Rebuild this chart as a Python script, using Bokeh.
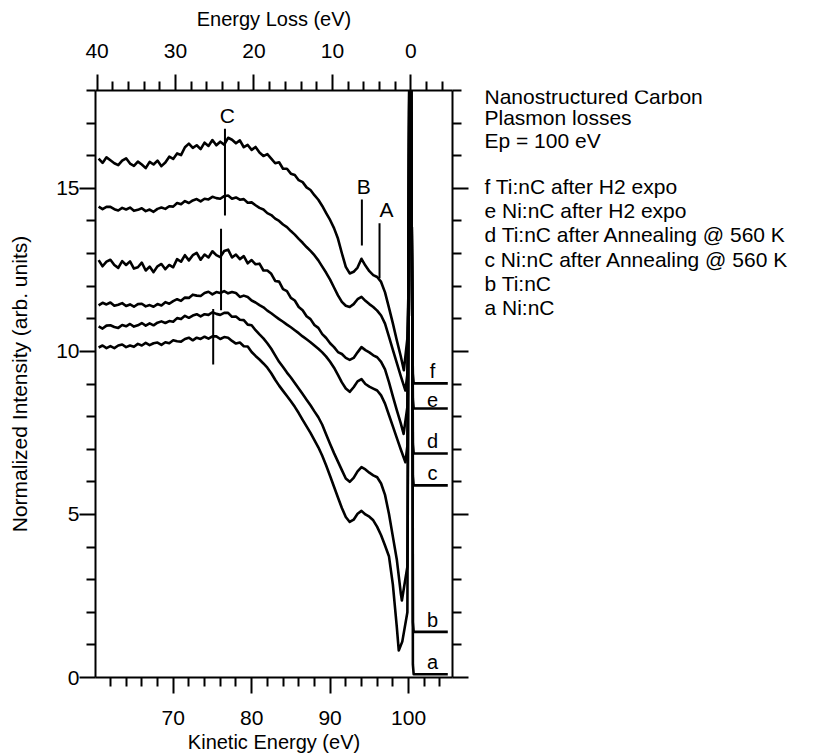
from bokeh.plotting import figure
from bokeh.layouts import row
from bokeh.models import Range1d, LinearAxis, FixedTicker, Label
from bokeh.core.properties import value
from bokeh.embed import file_html
from bokeh.resources import INLINE

FONT = "Liberation Sans"

# ---------------- data ----------------
KE = [60.5, 61.0, 61.5, 62.0, 62.5, 63.0, 63.5, 64.0, 64.5, 65.0,
      65.5, 66.0, 66.5, 67.0, 67.5, 68.0, 68.5, 69.0, 69.5, 70.0,
      70.5, 71.0, 71.5, 72.0, 72.5, 73.0, 73.5, 74.0, 74.5, 75.0,
      75.5, 76.0, 76.5, 77.0, 77.5, 78.0, 78.5, 79.0, 79.5, 80.0,
      80.5, 81.0, 81.5, 82.0, 82.5, 83.0, 83.5, 84.0, 84.5, 85.0,
      85.5, 86.0, 86.5, 87.0, 87.5, 88.0, 88.5, 89.0, 89.5, 90.0,
      90.5, 91.0, 91.5, 92.0, 92.5, 93.0, 93.5, 94.0, 94.5, 95.0,
      95.5, 96.0, 96.5, 97.0, 97.5, 98.0, 98.5]

f_I = [15.91, 15.78, 15.95, 15.86, 15.77, 15.71, 15.85, 15.92, 15.76, 15.69,
       15.82, 15.73, 15.62, 15.81, 15.73, 15.85, 15.68, 15.79, 15.97, 15.90,
       16.07, 16.02, 16.26, 16.37, 16.24, 16.32, 16.20, 16.40, 16.30, 16.48,
       16.32, 16.43, 16.34, 16.55, 16.49, 16.38, 16.47, 16.26, 16.33, 16.18,
       16.27, 16.10, 15.99, 16.05, 15.91, 15.77, 15.80, 15.60, 15.60, 15.45,
       15.41, 15.25, 15.19, 15.03, 14.95, 14.79, 14.65, 14.46, 14.24, 14.03,
       13.78, 13.46, 13.01, 12.59, 12.39, 12.44, 12.57, 12.84, 12.63, 12.46,
       12.34, 12.28, 12.13, 11.81, 11.34, 10.86, 10.34]
e_I = [14.44, 14.36, 14.43, 14.43, 14.36, 14.32, 14.40, 14.35, 14.41, 14.31,
       14.34, 14.39, 14.30, 14.35, 14.28, 14.37, 14.41, 14.37, 14.45, 14.44,
       14.55, 14.51, 14.61, 14.55, 14.63, 14.67, 14.60, 14.68, 14.66, 14.74,
       14.70, 14.68, 14.76, 14.78, 14.68, 14.72, 14.65, 14.67, 14.56, 14.57,
       14.48, 14.40, 14.35, 14.24, 14.18, 14.07, 14.00, 13.89, 13.81, 13.69,
       13.58, 13.45, 13.33, 13.20, 13.08, 12.95, 12.79, 12.60, 12.41, 12.20,
       11.96, 11.72, 11.52, 11.40, 11.36, 11.45, 11.60, 11.67, 11.55, 11.45,
       11.36, 11.25, 11.10, 10.85, 10.45, 10.05, 9.65]
d_I = [12.80, 12.61, 12.75, 12.81, 12.65, 12.56, 12.77, 12.65, 12.76, 12.54,
       12.58, 12.72, 12.48, 12.60, 12.43, 12.61, 12.68, 12.52, 12.65, 12.58,
       12.83, 12.75, 12.95, 12.79, 12.95, 13.02, 12.81, 12.97, 12.88, 13.07,
       12.95, 12.89, 13.08, 13.12, 12.88, 12.97, 12.83, 12.92, 12.70, 12.80,
       12.67, 12.69, 12.48, 12.48, 12.38, 12.16, 12.14, 11.91, 11.85, 11.64,
       11.56, 11.36, 11.26, 11.08, 10.99, 10.81, 10.72, 10.53, 10.41, 10.25,
       10.13, 9.98, 9.92, 9.80, 9.74, 9.80, 9.97, 10.13, 10.04, 9.97,
       9.88, 9.82, 9.68, 9.45, 9.06, 8.62, 8.20]
c_I = [11.41, 11.49, 11.44, 11.50, 11.40, 11.43, 11.48, 11.39, 11.44, 11.37,
       11.45, 11.46, 11.38, 11.42, 11.37, 11.45, 11.41, 11.51, 11.46, 11.54,
       11.60, 11.55, 11.65, 11.64, 11.74, 11.71, 11.70, 11.79, 11.83, 11.75,
       11.82, 11.79, 11.85, 11.78, 11.82, 11.79, 11.67, 11.71, 11.67, 11.56,
       11.50, 11.42, 11.35, 11.25, 11.17, 11.08, 10.99, 10.91, 10.82, 10.74,
       10.65, 10.56, 10.46, 10.37, 10.28, 10.18, 10.08, 9.97, 9.84, 9.68,
       9.50, 9.28, 9.05, 8.86, 8.76, 8.90, 9.08, 9.15, 9.00, 8.92,
       8.86, 8.80, 8.65, 8.40, 8.05, 7.70, 7.35]
b_I = [10.77, 10.70, 10.79, 10.80, 10.75, 10.72, 10.81, 10.77, 10.84, 10.76,
       10.80, 10.87, 10.79, 10.86, 10.80, 10.88, 10.92, 10.87, 10.93, 10.91,
       11.02, 10.99, 11.09, 11.03, 11.10, 11.14, 11.07, 11.14, 11.12, 11.20,
       11.15, 11.12, 11.18, 11.18, 11.06, 11.07, 10.97, 10.96, 10.82, 10.80,
       10.65, 10.52, 10.40, 10.25, 10.08, 9.88, 9.68, 9.52, 9.35, 9.20,
       9.03, 8.86, 8.69, 8.52, 8.35, 8.16, 7.98, 7.75, 7.45, 7.16,
       6.88, 6.62, 6.36, 6.10, 6.00, 6.12, 6.32, 6.45, 6.38, 6.28,
       6.20, 6.14, 5.95, 5.60, 5.02, 4.32, 3.62]
a_I = [10.12, 10.18, 10.10, 10.16, 10.10, 10.18, 10.21, 10.13, 10.18, 10.14,
       10.23, 10.18, 10.26, 10.19, 10.25, 10.27, 10.20, 10.28, 10.25, 10.34,
       10.31, 10.30, 10.38, 10.42, 10.34, 10.42, 10.38, 10.45, 10.39, 10.46,
       10.46, 10.38, 10.44, 10.42, 10.32, 10.24, 10.27, 10.16, 10.15, 9.98,
       9.86, 9.75, 9.63, 9.50, 9.33, 9.13, 8.95, 8.79, 8.63, 8.47,
       8.30, 8.11, 7.90, 7.70, 7.50, 7.28, 7.06, 6.80, 6.50, 6.18,
       5.85, 5.52, 5.20, 4.92, 4.77, 4.84, 5.02, 5.11, 5.00, 4.93,
       4.82, 4.62, 4.36, 4.05, 3.72, 2.85, 1.55]

# end of each spectrum before the elastic peak (minimum region)
END_KE = {"f": [99.0, 99.4, 99.85], "e": [99.0, 99.6, 99.85], "d": [99.0, 99.37, 99.85],
          "c": [99.0, 99.6, 99.85], "b": [99.0, 99.15, 99.85], "a": [98.75, 99.2, 99.85]}
END_I = {"f": [9.86, 9.42, 10.4], "e": [9.25, 8.80, 9.3], "d": [7.80, 7.47, 8.3],
         "c": [7.00, 6.60, 7.1], "b": [2.60, 2.36, 3.4], "a": [0.83, 1.1, 2.0]}

# elastic peak (goes off scale)
PEAK_KE = [100.0, 100.15, 100.25, 100.4, 100.5]
PEAK_I = [12.0, 22.0, 22.0, 14.0, 10.0]

# flat level after the elastic peak
TAIL_KE = [100.55, 100.65, 105.0]
TAIL_I = {"f": 9.02, "e": 8.25, "d": 6.87, "c": 5.89, "b": 1.40, "a": 0.10}

SERIES = {"f": f_I, "e": e_I, "d": d_I, "c": c_I, "b": b_I, "a": a_I}
LETTERS = ["f", "e", "d", "c", "b", "a"]

# feature marker lines
MARK_X = [76.6, 76.1, 75.1, 94.05, 96.3]
MARK_Y0 = [16.83, 13.76, 11.30, 14.66, 13.93]
MARK_Y1 = [14.17, 11.26, 9.60, 13.25, 12.24]
MARK_TEXT = ["C", "B", "A"]
MARK_TEXT_X = [76.9, 94.3, 97.2]
MARK_TEXT_Y = [17.24, 15.06, 14.34]

X_TICKS = [70, 80, 90, 100]
X_MINOR = [62, 64, 66, 68, 72, 74, 76, 78, 82, 84, 86, 88, 92, 94, 96, 98, 102, 104]
LOSS_TICKS = [40, 30, 20, 10, 0]
LOSS_MINOR = [38, 36, 34, 32, 28, 26, 24, 22, 18, 16, 14, 12, 8, 6, 4, 2, -2, -4]
Y_TICKS = [0, 5, 10, 15]
Y_MINOR = [1, 2, 3, 4, 6, 7, 8, 9, 11, 12, 13, 14, 16, 17, 18]
E0 = 100.3  # kinetic energy of zero loss

TEXT_LINES = ["Nanostructured Carbon", "Plasmon losses", "Ep = 100 eV",
              "f Ti:nC after H2 expo", "e Ni:nC after H2 expo",
              "d Ti:nC after Annealing @ 560 K", "c Ni:nC after Annealing @ 560 K",
              "b Ti:nC", "a Ni:nC"]
TEXT_BASE = [96, 117, 140, 186, 210, 234, 258.5, 282.5, 306.5]

# ---------------- main figure ----------------
W_MAIN = 475
FR_TOP, FR_BOT = 90, 677
X0, X1 = 60.1, 105.6
p = figure(width=W_MAIN, height=756, output_backend="svg", toolbar_location=None,
           x_range=Range1d(X0, X1), y_range=Range1d(0, 18),
           x_axis_location=None, y_axis_location=None,
           min_border_left=95, min_border_right=W_MAIN - 452, min_border_top=FR_TOP,
           min_border_bottom=756 - FR_BOT)
p.extra_x_ranges = {"loss": Range1d(E0 - X0, E0 - X1)}
p.outline_line_color = None
p.background_fill_color = "white"
p.border_fill_color = "white"
for g in p.grid:
    g.visible = False


def style(ax, size="21px"):
    ax.axis_line_width = 2
    ax.axis_line_color = "black"
    ax.major_tick_line_width = 2
    ax.minor_tick_line_width = 2
    ax.major_tick_line_color = "black"
    ax.minor_tick_line_color = "black"
    ax.major_tick_out = 16
    ax.major_tick_in = 0
    ax.minor_tick_out = 9
    ax.minor_tick_in = 0
    ax.major_label_text_font = FONT
    ax.major_label_text_font_size = size
    ax.major_label_text_color = "black"
    ax.axis_label_text_font = FONT
    ax.axis_label_text_font_size = "20px"
    ax.axis_label_text_font_style = "normal"
    ax.axis_label_text_color = "black"


bottom = LinearAxis(ticker=FixedTicker(ticks=X_TICKS, minor_ticks=X_MINOR),
                    axis_label="Kinetic Energy (eV)")
style(bottom)
bottom.major_label_standoff = 17
bottom.axis_label_standoff = 3
p.add_layout(bottom, "below")

top = LinearAxis(x_range_name="loss", ticker=FixedTicker(ticks=LOSS_TICKS, minor_ticks=LOSS_MINOR),
                 axis_label="Energy Loss (eV)")
style(top)
top.major_label_standoff = 17
top.axis_label_standoff = 11
p.add_layout(top, "above")

left = LinearAxis(ticker=FixedTicker(ticks=Y_TICKS, minor_ticks=Y_MINOR),
                  axis_label="Normalized Intensity (arb. units)")
style(left)
left.major_label_standoff = 0
left.axis_label_standoff = 22
left.axis_label_text_font_size = "21px"
p.add_layout(left, "left")

right = LinearAxis(ticker=FixedTicker(ticks=Y_TICKS, minor_ticks=Y_MINOR),
                   major_label_overrides={t: "" for t in Y_TICKS})
style(right)
right.major_label_standoff = 0
p.add_layout(right, "right")

# spectra
for k in LETTERS:
    xs = KE + END_KE[k] + PEAK_KE + TAIL_KE
    ys = SERIES[k] + END_I[k] + PEAK_I + [TAIL_I[k] + 0.3, TAIL_I[k], TAIL_I[k]]
    p.line(xs, ys, line_color="black", line_width=2.6, line_join="round")

# letters above tails
p.text(x=[103.05] * len(LETTERS), y=[TAIL_I[k] for k in LETTERS], text=LETTERS,
       text_align="center", text_baseline="bottom", y_offset=-1,
       text_font=value(FONT), text_font_size="20px", text_color="black")

# feature markers
p.segment(x0=MARK_X, y0=MARK_Y0, x1=MARK_X, y1=MARK_Y1, line_color="black", line_width=2)
for t, x, y in zip(MARK_TEXT, MARK_TEXT_X, MARK_TEXT_Y):
    p.add_layout(Label(x=x, y=y, text=t, text_align="center", text_baseline="middle",
                       text_font=FONT, text_font_size="21px", text_color="black"))

# ---------------- text panel on the right ----------------
# (its frame is aligned with the main frame, so y is given in page pixels)
W_TXT = 817 - W_MAIN
q = figure(width=W_TXT, height=756, output_backend="svg", toolbar_location=None,
           x_range=Range1d(0, W_TXT), y_range=Range1d(FR_BOT, FR_TOP),
           x_axis_location=None, y_axis_location=None, min_border=0,
           min_border_top=FR_TOP, min_border_bottom=756 - FR_BOT)
q.outline_line_color = None
q.background_fill_color = "white"
q.border_fill_color = "white"
for g in q.grid:
    g.visible = False

TX = 484 - W_MAIN
q.text(x=[TX] * len(TEXT_LINES), y=TEXT_BASE, text=TEXT_LINES, text_align="left",
       text_baseline="alphabetic", text_font=value(FONT), text_font_size="21px",
       text_color="black")

layout = row(p, q)
open("out.html", "w").write(file_html(layout, INLINE))
